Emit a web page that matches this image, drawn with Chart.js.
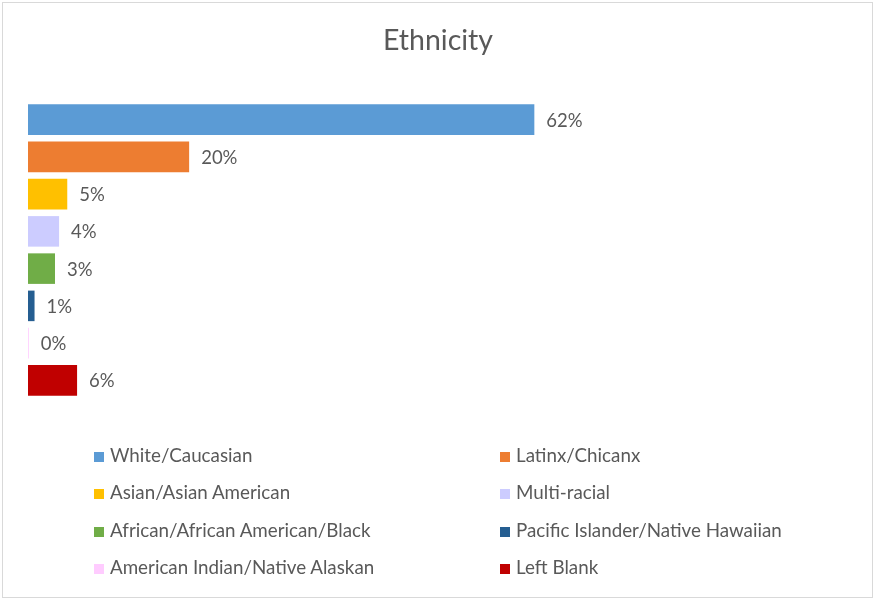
<!DOCTYPE html>
<html>
<head>
<meta charset="utf-8">
<script src="https://cdn.jsdelivr.net/npm/chart.js@4/dist/chart.umd.min.js"></script>
<style>
  html, body { margin: 0; padding: 0; background: #fff; }
  #wrap { position: relative; width: 876px; height: 601px; overflow: hidden; }
  #frame { position: absolute; left: 2px; top: 2px; width: 871px; height: 596px; border: 1px solid #d9d9d9; box-sizing: border-box; pointer-events: none; }
  #title { position: absolute; left: 0; width: 876px; top: 22px; text-align: center; font-family: Lato, "Open Sans", sans-serif; font-size: 28.5px; color: #595959; }
  .leg { position: absolute; font-family: Lato, "Open Sans", sans-serif; font-size: 18.8px; color: #595959; white-space: nowrap; line-height: 20px; }
  .leg span.box { display: inline-block; width: 10px; height: 10px; margin-right: 6px; vertical-align: 0px; }
  canvas { position: absolute; left: 0; top: 0; }
</style>
</head>
<body>
<div id="wrap">
  <canvas id="c" width="876" height="601"></canvas>
  <div id="title">Ethnicity</div>
  <div id="legend"></div>
  <div id="frame"></div>
</div>
<script>
const categories = [
  "White/Caucasian",
  "Latinx/Chicanx",
  "Asian/Asian American",
  "Multi-racial",
  "African/African American/Black",
  "Pacific Islander/Native Hawaiian",
  "American Indian/Native Alaskan",
  "Left Blank"
];
const percentages = [61.9, 19.7, 4.8, 3.8, 3.3, 0.8, 0.1, 6.0];
const colors = ["#5B9BD5", "#ED7D31", "#FFC000", "#CCCCFF", "#70AD47", "#255E91", "#FFCCFF", "#C00000"];

const labelPlugin = {
  id: 'barLabels',
  afterDatasetsDraw(chart) {
    const ctx = chart.ctx;
    const meta = chart.getDatasetMeta(0);
    ctx.save();
    ctx.font = '18.5px Lato, "Open Sans", sans-serif';
    ctx.fillStyle = '#595959';
    ctx.textAlign = 'left';
    ctx.textBaseline = 'middle';
    meta.data.forEach((bar, i) => {
      const v = chart.data.datasets[0].data[i];
      ctx.fillText(Math.round(v) + '%', bar.x + 12, bar.y + 1);
    });
    ctx.restore();
  }
};

new Chart(document.getElementById('c'), {
  type: 'bar',
  data: {
    labels: categories,
    datasets: [{
      data: percentages,
      backgroundColor: colors,
      borderWidth: 0,
      categoryPercentage: 1.0,
      barPercentage: 0.82
    }]
  },
  options: {
    indexAxis: 'y',
    responsive: false,
    animation: false,
    events: [],
    layout: { padding: { left: 28, right: 30, top: 101, bottom: 202 } },
    scales: {
      x: { display: false, min: 0, max: 100 },
      y: { display: false }
    },
    plugins: {
      legend: { display: false },
      title: { display: false },
      tooltip: { enabled: false }
    }
  },
  plugins: [labelPlugin]
});

// legend in two columns (Excel-style)
const legendEl = document.getElementById('legend');
const colX = [94, 500];
const rowY = [445, 482, 520, 557];
categories.forEach((name, i) => {
  const d = document.createElement('div');
  d.className = 'leg';
  d.style.left = colX[i % 2] + 'px';
  d.style.top = rowY[Math.floor(i / 2)] + 'px';
  const b = document.createElement('span');
  b.className = 'box';
  b.style.background = colors[i];
  d.appendChild(b);
  d.appendChild(document.createTextNode(name));
  legendEl.appendChild(d);
});
</script>
</body>
</html>
